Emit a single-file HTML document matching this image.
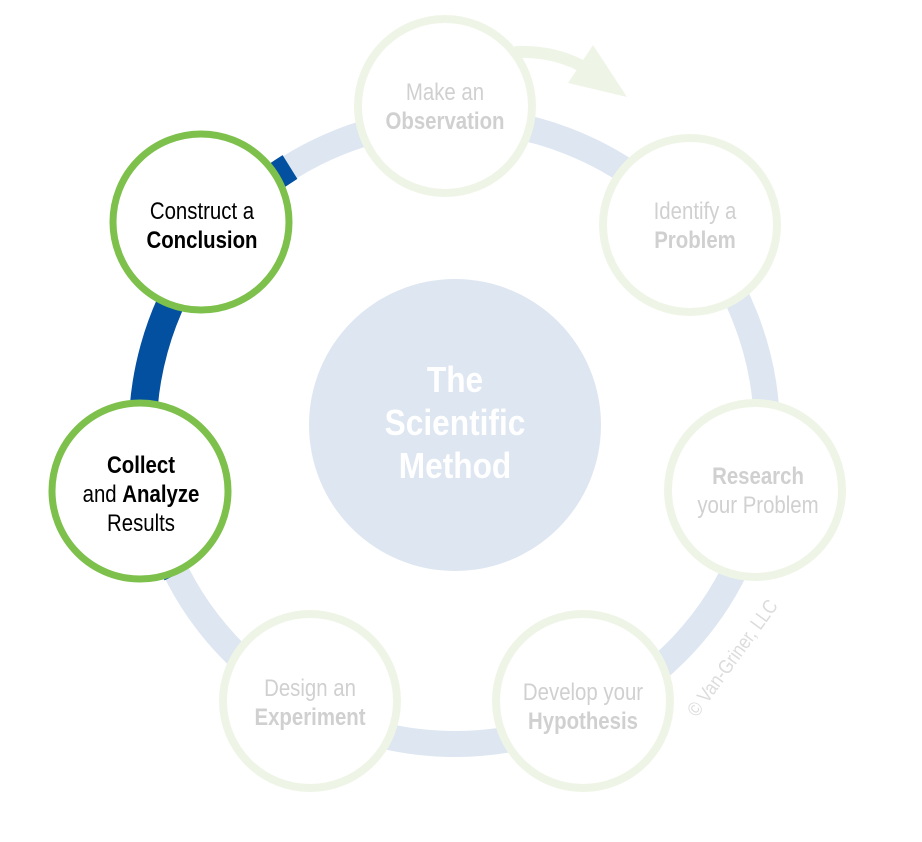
<!DOCTYPE html>
<html><head><meta charset="utf-8">
<style>
html,body{margin:0;padding:0;background:#fff;}
svg{display:block;}
text{font-family:"Liberation Sans",sans-serif;}
</style></head>
<body>
<svg width="922" height="842" viewBox="0 0 922 842" xmlns="http://www.w3.org/2000/svg">
  <circle cx="455" cy="432" r="312" fill="none" stroke="#dde6f1" stroke-width="26"/>
  <path d="M 177 574 A 312 312 0 0 1 290 167" fill="none" stroke="#0350a0" stroke-width="28"/>
  <circle cx="455" cy="425" r="146" fill="#dde6f1"/>
  <g fill="#fff" font-weight="bold" font-size="36" text-anchor="middle">
    <text x="455" y="392" transform="translate(455 0) scale(0.88 1) translate(-455 0)">The</text>
    <text x="455" y="435" transform="translate(455 0) scale(0.88 1) translate(-455 0)">Scientific</text>
    <text x="455" y="478" transform="translate(455 0) scale(0.88 1) translate(-455 0)">Method</text>
  </g>
  <path d="M 515 52 Q 565 50 600 78" fill="none" stroke="#eef5e6" stroke-width="12"/>
  <polygon points="593,45 627,97 568,83" fill="#eef5e6"/>
  <g fill="#fff" stroke="#eef5e6" stroke-width="8">
    <circle cx="445" cy="106" r="87"/>
    <circle cx="690" cy="225" r="87"/>
    <circle cx="755" cy="490" r="87"/>
    <circle cx="583" cy="701" r="87"/>
    <circle cx="310" cy="701" r="87"/>
  </g>
  <g fill="#d0d0d0" font-size="24" text-anchor="middle">
    <g transform="translate(445 0) scale(0.85 1)">
      <text x="0" y="100">Make an</text>
      <text x="0" y="129" font-weight="bold">Observation</text>
    </g>
    <g transform="translate(695 0) scale(0.85 1)">
      <text x="0" y="219">Identify a</text>
      <text x="0" y="248" font-weight="bold">Problem</text>
    </g>
    <g transform="translate(758 0) scale(0.85 1)">
      <text x="0" y="484" font-weight="bold">Research</text>
      <text x="0" y="513">your Problem</text>
    </g>
    <g transform="translate(583 0) scale(0.85 1)">
      <text x="0" y="700">Develop your</text>
      <text x="0" y="729" font-weight="bold">Hypothesis</text>
    </g>
    <g transform="translate(310 0) scale(0.85 1)">
      <text x="0" y="696">Design an</text>
      <text x="0" y="725" font-weight="bold">Experiment</text>
    </g>
  </g>
  <g fill="#fff" stroke="#7dc04b" stroke-width="7">
    <circle cx="201" cy="222" r="88"/>
    <circle cx="140" cy="491" r="88"/>
  </g>
  <g fill="#000" font-size="24" text-anchor="middle">
    <g transform="translate(202 0) scale(0.85 1)">
      <text x="0" y="219">Construct a</text>
      <text x="0" y="248" font-weight="bold">Conclusion</text>
    </g>
    <g transform="translate(141 0) scale(0.85 1)">
      <text x="0" y="473" font-weight="bold">Collect</text>
      <text x="0" y="502">and <tspan font-weight="bold">Analyze</tspan></text>
      <text x="0" y="531">Results</text>
    </g>
  </g>
  <text x="0" y="0" font-size="20" fill="#dcdcdc" transform="translate(697 718) rotate(-54) scale(0.85 1)">© Van-Griner, LLC</text>
</svg>
</body></html>
